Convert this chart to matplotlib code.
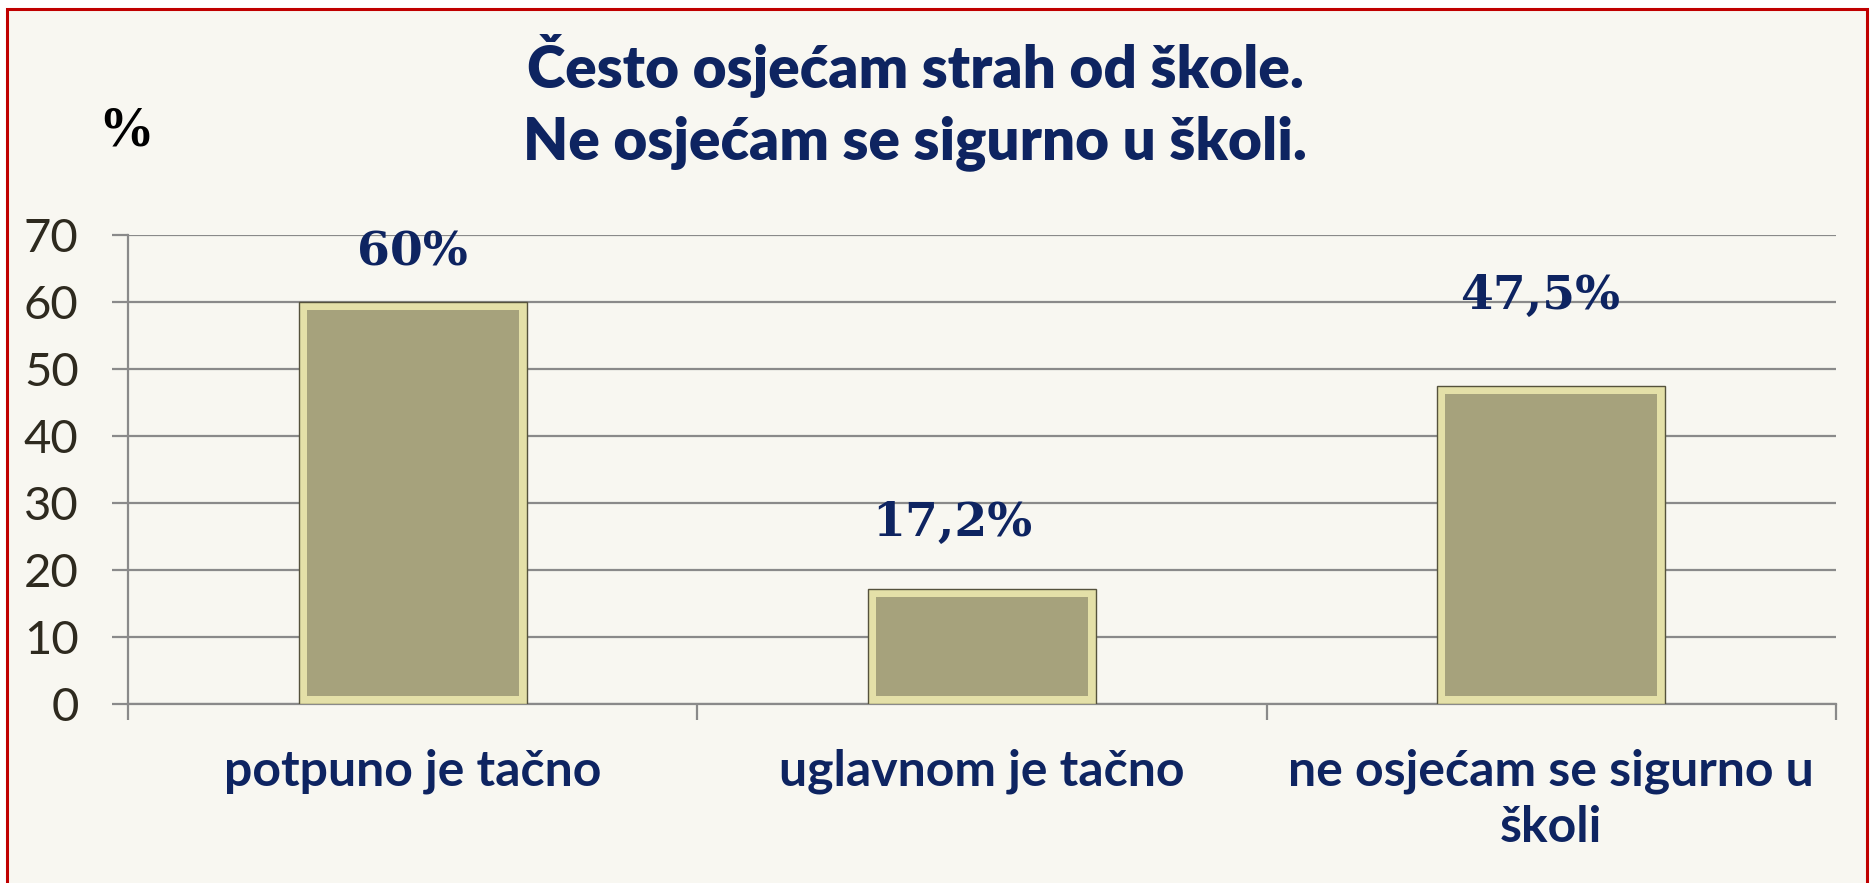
import matplotlib
matplotlib.use('Agg')
import matplotlib.pyplot as plt
from matplotlib.patches import Rectangle

# podaci
kategorije = ['potpuno je tačno', 'uglavnom je tačno', 'ne osjećam se sigurno u\nškoli']
vrijednosti = [60, 17.2, 47.5]
oznake = ['60%', '17,2%', '47,5%']
y_ticks = [0, 10, 20, 30, 40, 50, 60, 70]

NAVY = '#0E2461'
BG = '#F8F7F1'
SANS = 'Lato'
SERIF = 'DejaVu Serif'

fig = plt.figure(figsize=(18.72, 8.83), dpi=100)
fig.patch.set_facecolor('white')

# okvir
okvir = Rectangle((7 / 1872, -0.05), 1860 / 1872, 1.05 - 9 / 883, transform=fig.transFigure,
                  facecolor=BG, edgecolor='#C00000', linewidth=2.2, zorder=-5)
fig.patches.append(okvir)

ax = fig.add_axes([128 / 1872, 1 - 704 / 883, (1836 - 128) / 1872, (704 - 235) / 883])
ax.set_facecolor('none')
ax.set_zorder(2)
x = range(len(vrijednosti))
w = 0.40
ix, iy = 0.014, 1.2  # bevel uvlaka

ax.bar(x, vrijednosti, width=w, color='#E4E0A8', edgecolor='#55523C', linewidth=1.0, zorder=3)
ax.bar(x, [v - 2 * iy for v in vrijednosti], bottom=iy, width=w - 2 * ix, color='#A6A27C',
       linewidth=0, zorder=4)

ax.set_xlim(-0.5, 2.5)
ax.set_ylim(0, 70)
ax.set_yticks(y_ticks)
ax.grid(axis='y', color='#8A8A8A', linewidth=1.6, zorder=1)
ax.set_axisbelow(True)
for s in ['top', 'right']:
    ax.spines[s].set_visible(False)
for s in ['left', 'bottom']:
    ax.spines[s].set_color('#8A8A8A')
    ax.spines[s].set_linewidth(1.6)

ax.tick_params(axis='y', length=11.5, width=1.6, color='#8A8A8A', pad=24, labelsize=34,
               labelcolor='#2E2A1F')
for t in ax.get_yticklabels():
    t.set_family(SANS)

ax.set_xticks([-0.5, 0.5, 1.5, 2.5], minor=True)
ax.tick_params(axis='x', which='minor', length=11.5, width=1.6, color='#8A8A8A')
ax.set_xticks(list(x))
ax.set_xticklabels(kategorije, fontsize=36, fontweight='bold', color=NAVY, family=SANS,
                   linespacing=1.3)
for t in ax.get_xticklabels():
    t.set_multialignment('center')
ax.tick_params(axis='x', which='major', length=0, pad=32)

# oznake iznad stubaca (pomak u px)
pomaci = [(0, 50), (-30, 66), (-11, 90)]
for i, (v, t) in enumerate(zip(vrijednosti, oznake)):
    dx, dy = pomaci[i]
    ax.annotate(t, (i, v), xytext=(dx * 0.72, dy * 0.72), textcoords='offset points',
                ha='center', va='center', fontsize=34, fontweight='bold', color=NAVY,
                family=SERIF, zorder=5)

fig.text(915 / 1872, 1 - 66 / 883, 'Često osjećam strah od škole.', ha='center', va='center',
         fontsize=42, fontweight='heavy', color=NAVY, family=SANS)
fig.text(915 / 1872, 1 - 143 / 883, 'Ne osjećam se sigurno u školi.', ha='center', va='center',
         fontsize=42, fontweight='heavy', color=NAVY, family=SANS)
fig.text(126 / 1872, 1 - 131 / 883, '%', ha='center', va='center', fontsize=40,
         fontweight='bold', color='black', family='Liberation Serif')

fig.savefig('out.png', dpi=100, facecolor=fig.get_facecolor())
